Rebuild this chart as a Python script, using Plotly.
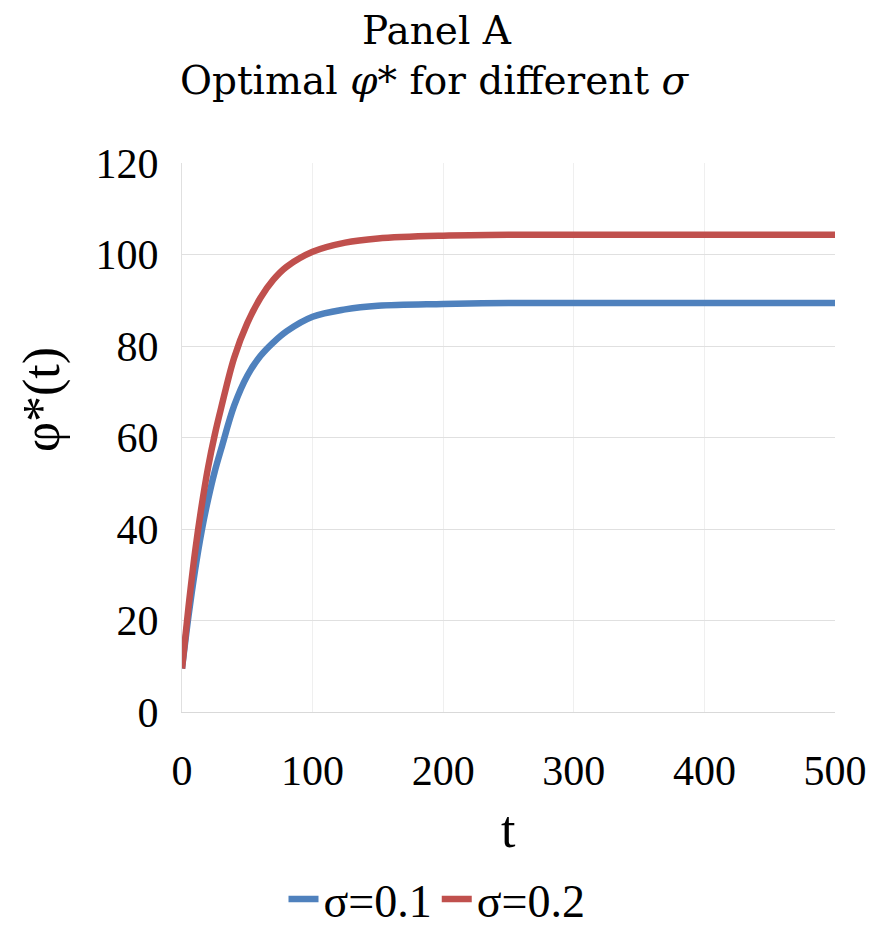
import plotly.graph_objects as go

t_vals = [0, 5, 10, 15, 20, 25, 30, 40, 50, 60, 70, 80, 100, 125, 150, 200, 250, 300, 400, 500]
sigma_01 = [9.5, 21, 31, 39.5, 46.5, 52.5, 57.5, 67, 73.5, 77.8, 80.8, 83.2, 86.4, 88.0, 88.8, 89.2, 89.4, 89.4, 89.4, 89.4]
sigma_02 = [9.5, 23, 35, 45, 53.5, 60.5, 66.5, 77.5, 85, 90.5, 94.5, 97.3, 100.6, 102.6, 103.5, 104.1, 104.3, 104.3, 104.3, 104.3]
series_names = ["σ=0.1", "σ=0.2"]
x_ticks = [0, 100, 200, 300, 400, 500]
y_ticks = [0, 20, 40, 60, 80, 100, 120]

BLUE = "#4F81BD"
RED = "#C0504D"
FONT = "Liberation Serif"
TFONT = "DejaVu Serif"

OFF = 8  # page body margin offset
W, H = 874 - OFF, 927 - OFF
# plot area in screen pixels: x 182..835, y 163..712
L, R = 182 - OFF, 874 - 835
T, B = 163 - OFF, 927 - 712
PW, PH = W - L - R, H - T - B


def px_x(x):
    return (x - OFF - L) / PW


def px_y(y):
    return (H - B - (y - OFF)) / PH


fig = go.Figure()
fig.add_trace(go.Scatter(x=t_vals, y=sigma_01, mode="lines", name=series_names[0],
                         line=dict(color=BLUE, width=6.5, shape="spline", smoothing=1.0)))
fig.add_trace(go.Scatter(x=t_vals, y=sigma_02, mode="lines", name=series_names[1],
                         line=dict(color=RED, width=6.5, shape="spline", smoothing=1.0)))

fig.update_layout(
    width=W, height=H,
    margin=dict(l=L, r=R, t=T, b=B, autoexpand=False),
    paper_bgcolor="white", plot_bgcolor="white",
    font=dict(family=FONT, color="#000000"),
    showlegend=True,
    legend=dict(orientation="h", x=(437 - OFF) / W, xref="container", xanchor="center",
                y=1 - (899 - OFF) / H, yref="container", yanchor="middle",
                font=dict(family=FONT, size=46), itemwidth=30, tracegroupgap=0,
                bgcolor="rgba(0,0,0,0)"),
)
fig.update_xaxes(range=[0, 500], tickvals=x_ticks, ticktext=[str(v) for v in x_ticks],
                 showgrid=True, gridcolor="#EFEFEF", gridwidth=1,
                 showline=True, linecolor="#D9D9D9", linewidth=1,
                 zeroline=False, ticks="", tickfont=dict(family=FONT, size=42),
                 ticklabelstandoff=22, automargin=False)
fig.update_yaxes(range=[0, 120], tickvals=y_ticks, ticktext=[str(v) for v in y_ticks],
                 showgrid=True, gridcolor="#E0E0E0", gridwidth=1,
                 showline=True, linecolor="#E0E0E0", linewidth=1,
                 zeroline=False, ticks="", tickfont=dict(family=FONT, size=42),
                 ticklabelstandoff=14, automargin=False)

fig.add_annotation(text="Panel A", xref="paper", yref="paper", x=px_x(437), y=px_y(31),
                   showarrow=False, font=dict(family=TFONT, size=39),
                   xanchor="center", yanchor="middle")
fig.add_annotation(text="Optimal <i>φ</i>* for different <i>σ</i>", xref="paper", yref="paper",
                   x=px_x(435), y=px_y(81), showarrow=False, font=dict(family=TFONT, size=39),
                   xanchor="center", yanchor="middle")
fig.add_annotation(text="t", xref="paper", yref="paper", x=px_x(508), y=px_y(829),
                   showarrow=False, font=dict(family=FONT, size=52), xanchor="center", yanchor="middle")
fig.add_annotation(text="φ*(t)", xref="paper", yref="paper", x=px_x(42), y=px_y(400),
                   showarrow=False, textangle=-90, font=dict(family=FONT, size=52),
                   xanchor="center", yanchor="middle")

fig.write_html("out.html")
